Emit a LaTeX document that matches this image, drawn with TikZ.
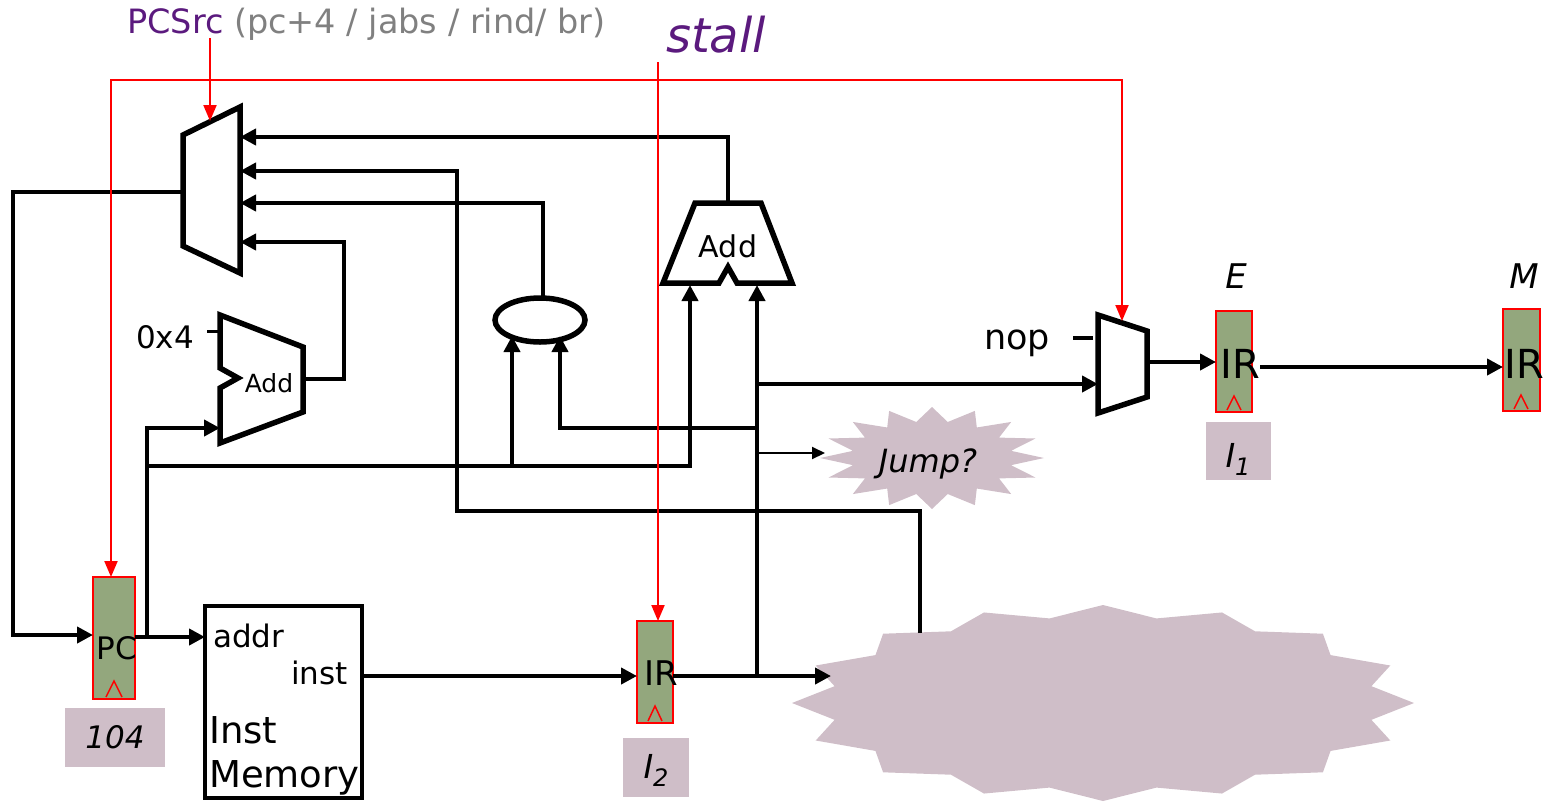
\documentclass[tikz,border=0pt]{standalone}
\usepackage{fontspec}
\setmainfont{DejaVu Sans}
\usetikzlibrary{arrows.meta}
\definecolor{regfill}{RGB}{147,167,125}
\definecolor{cloudc}{RGB}{207,190,200}
\definecolor{purp}{RGB}{91,26,126}
\definecolor{grayt}{RGB}{128,128,128}
\newcommand{\fsz}[1]{\fontsize{#1}{#1}\selectfont}
\begin{document}
\begin{tikzpicture}[x=1pt,y=-1pt,
  wire/.style={line width=4.5pt},
  arr/.style={wire,-{Triangle[length=16pt,width=16pt]}},
  thinarr/.style={line width=2pt,-{Triangle[length=13pt,width=12pt]}},
  ctl/.style={red,line width=2pt},
  ctlarr/.style={ctl,-{Triangle[length=16pt,width=13pt]}},
  shp/.style={line width=5.5pt,line join=miter},
  reg/.style={draw=red,line width=2pt,fill=regfill,inner sep=0pt},
  lbox/.style={fill=cloudc,inner sep=0pt},
  txt/.style={inner sep=0pt,anchor=base},
  caret/.style={red,line width=1.5pt}
]
\useasboundingbox (0,0) rectangle (1552,801);

% clouds
\fill[cloudc] plot[samples at={0,11.25,...,360}]
  ({1103+(1-0.12*mod(round(\x/11.25),2))*311*cos(\x)},{703+(1-0.12*mod(round(\x/11.25),2))*98*sin(\x)}) -- cycle;
\fill[cloudc] plot[samples at={0,11.25,...,360}]
  ({932+(1-0.28*mod(round(\x/11.25),2))*112*cos(\x)},{458+(1-0.28*mod(round(\x/11.25),2))*51*sin(\x)}) -- cycle;
\node[txt] (jump) at (928,472) {\fsz{32}\itshape Jump?};

% registers
\node[reg,minimum width=42pt,minimum height=122pt] (pc) at (114,638) {};
\node[reg,minimum width=36pt,minimum height=102pt] (ir2) at (655,672) {};
\node[reg,minimum width=36pt,minimum height=101pt] (ire) at (1234,361.5) {};
\node[reg,minimum width=37pt,minimum height=102pt] (irm) at (1521.5,360) {};
\draw[caret] (106,697) -- (114,681) -- (122,697);
\draw[caret] (648,721) -- (655,706) -- (662,721);
\draw[caret] (1227,410) -- (1234,396) -- (1241,410);
\draw[caret] (1514,409) -- (1521,395) -- (1528,409);
\node[txt] (pct) at (117,659) {\fsz{31}PC};
\node[txt] (ir2t) at (661,685) {\fsz{34}IR};
\node[txt] (iret) at (1240,378) {\fsz{40}IR};
\node[txt] (irmt) at (1524,378) {\fsz{40}IR};
\node[txt] (et) at (1236,288) {\fsz{34}\itshape E};
\node[txt] (mt) at (1524,288) {\fsz{34}\itshape M};

% label boxes
\node[lbox,minimum width=100pt,minimum height=59pt] (b104) at (115,737.5) {};
\node[txt] (t104) at (115,748) {\fsz{31}\itshape 104};
\node[lbox,minimum width=66pt,minimum height=59pt] (bi2) at (656,767.5) {};
\node[txt] (ti2) at (656,778) {\fsz{33}\itshape I\raisebox{-8pt}{\fsz{24}2}};
\node[lbox,minimum width=65pt,minimum height=58pt] (bi1) at (1238.5,451) {};
\node[txt] (ti1) at (1238,467) {\fsz{33}\itshape I\raisebox{-8pt}{\fsz{24}1}};

% inst memory
\node[draw,line width=4.5pt,minimum width=157pt,minimum height=192pt,inner sep=0pt] (imem) at (283.5,702) {};
\node[txt,anchor=base west] (taddr) at (213,647) {\fsz{31}addr};
\node[txt,anchor=base west] (tinst) at (291,684) {\fsz{31}inst};
\node[txt,anchor=base west] (tInst) at (209,743) {\fsz{37}Inst};
\node[txt,anchor=base west] (tMem) at (209,787) {\fsz{37}Memory};

% shapes
\draw[shp] (183,135) -- (240,107) -- (240,273) -- (183,246) -- cycle;
\draw[shp] (220,315) -- (303,347) -- (303,412) -- (220,443) -- (220,388) -- (238,378) -- (220,368) -- cycle;
\node[txt] (add1) at (269,392) {\fsz{25}Add};
\draw[shp] (695,203) -- (761,203) -- (792,283) -- (737,283) -- (728,267) -- (719,283) -- (663,283) -- cycle;
\node[txt] (add2) at (728,257) {\fsz{30}Add};
\draw[shp] (1098,315) -- (1147,331) -- (1147,397) -- (1098,413) -- cycle;
\draw[shp] (540,320) ellipse [x radius=45pt, y radius=22pt];

% coordinates (ports)
\coordinate (muxout) at (183,192);
\coordinate (muxin1) at (240,137);
\coordinate (muxin2) at (240,171);
\coordinate (muxin3) at (240,203);
\coordinate (muxin4) at (240,242);
\coordinate (add1out) at (303,379);
\coordinate (add1in) at (220,428);
\coordinate (add2out) at (728,203);
\coordinate (add2inl) at (690,285);
\coordinate (add2inr) at (757,285);
\coordinate (elltop) at (543,298);
\coordinate (ellinl) at (512,336);
\coordinate (ellinr) at (560,336);
\coordinate (pcin) at (93,635);
\coordinate (pcout) at (135,637);
\coordinate (addrin) at (205,637);
\coordinate (instout) at (362,676);
\coordinate (ir2in) at (637,676);
\coordinate (ir2out) at (673,676);
\coordinate (cloudin) at (831,676);
\coordinate (cloudtop) at (920,633);
\coordinate (nopin) at (1098,384);
\coordinate (nopout) at (1147,362);
\coordinate (irein) at (1216,362);
\coordinate (ireout) at (1260,367);
\coordinate (irmin) at (1503,367);
\coordinate (jumpin) at (825,453);

% wires
\draw[arr] (muxout) -- (13,192) -- (13,635) -- (pcin);
\draw[arr] (pcout) -- (addrin);
\draw[arr] (147,637) -- (147,428) -- (add1in);
\draw[arr] (147,466) -- (690,466) -- (add2inl);
\draw[arr] (512,466) -- (ellinl);
\draw[arr] (add1out) -- (344,379) -- (344,242) -- (muxin4);
\draw[line width=3pt] (207,331) -- (220,331);
\draw[arr] (elltop) -- (543,203) -- (muxin3);
\draw[arr] (add2out) -- (728,137) -- (muxin1);
\draw[arr] (cloudtop) -- (920,511) -- (457,511) -- (457,171) -- (muxin2);
\draw[arr] (instout) -- (ir2in);
\draw[arr] (ir2out) -- (cloudin);
\draw[arr] (757,676) -- (757,384) -- (nopin);
\draw[arr] (757,384) -- (add2inr);
\draw[arr] (757,428) -- (560,428) -- (ellinr);
\draw[thinarr] (757,453) -- (jumpin);
\draw[wire] (1073,338) -- (1093,338);
\draw[arr] (nopout) -- (irein);
\draw[arr] (ireout) -- (irmin);

% texts
\node[txt,anchor=base west] (pcsrc) at (127,33) {\fsz{33.5}\textcolor{purp}{PCSrc} \textcolor{grayt}{(pc+4 / jabs / rind/ br)}};
\node[txt] (stall) at (716,52) {\fsz{48}\itshape\textcolor{purp}{stall}};
\node[txt] (c4) at (165,348) {\fsz{31}0x4};
\node[txt] (nop) at (1017,349) {\fsz{35}nop};

% control lines
\draw[ctlarr] (210,38) -- (210,121);
\draw[ctl,{Triangle[length=16pt,width=13pt]}-{Triangle[length=16pt,width=13pt]}] (111,577) -- (111,80) -- (1122,80) -- (1122,321);
\draw[ctlarr] (658,62) -- (658,621);
\end{tikzpicture}
\end{document}
